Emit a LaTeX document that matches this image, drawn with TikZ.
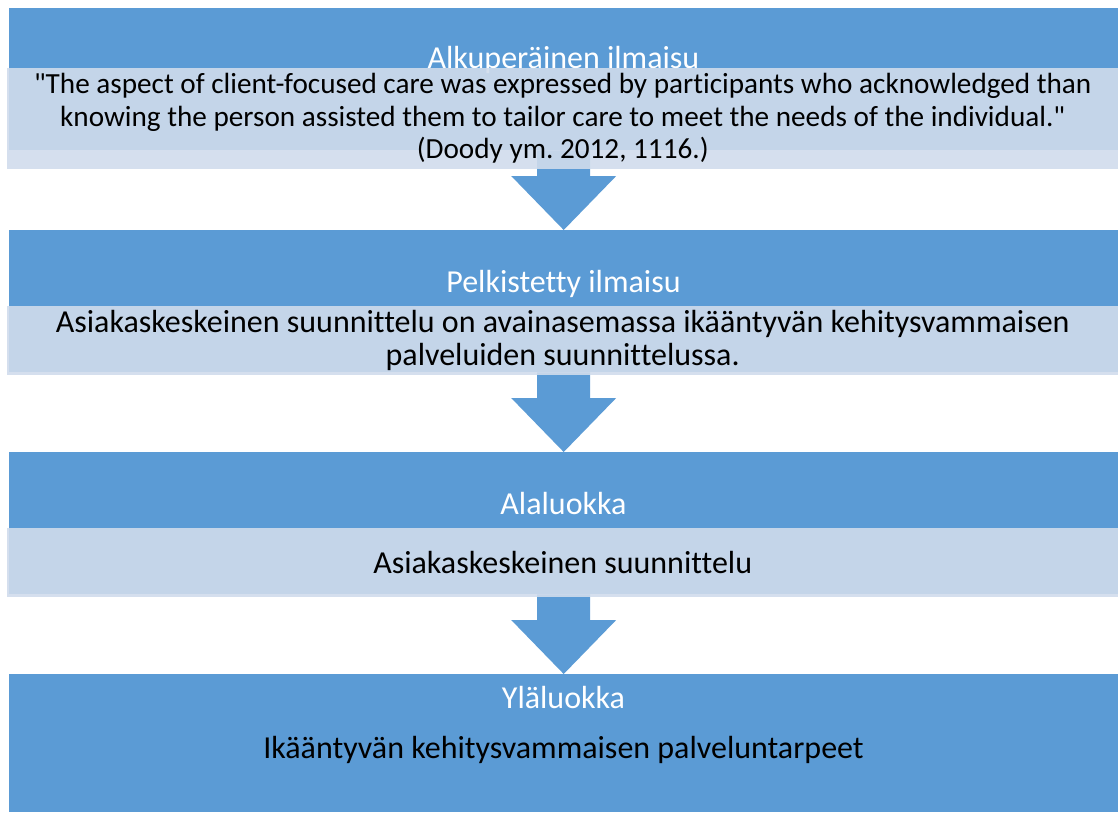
\documentclass[tikz,border=0pt]{standalone}
\usepackage{fontspec}
\setmainfont[Ligatures={NoCommon}]{Carlito}
\usepackage{tikz}
\usetikzlibrary{positioning, calc}
\definecolor{hdrblue}{RGB}{91,155,213}
\definecolor{boxblue}{RGB}{208,220,236}
\tikzstyle{header} = [rectangle,fill=hdrblue,inner sep=0pt,anchor=north west,minimum width=1109pt]
\tikzstyle{content} = [rectangle,fill=boxblue,fill opacity=0.9,text opacity=1,inner sep=0pt,anchor=north west,minimum width=1111pt,align=center,font=\fontsize{32}{33}\selectfont]
\tikzstyle{title} = [text=white,inner sep=0pt,anchor=base,font=\fontsize{32}{33}\selectfont]
\tikzstyle{plain} = [inner sep=0pt,anchor=base,font=\fontsize{32}{33}\selectfont]
\newcommand{\flowarrow}[2]{%
  \fill[hdrblue] ($(#1)+(-26.5,0)$) -- ($(#1)+(26.5,0)$) -- ($(#2)+(26.5,-54)$)
    -- ($(#2)+(52.5,-54)$) -- (#2) -- ($(#2)+(-52.5,-54)$) -- ($(#2)+(-26.5,-54)$) -- cycle;}

\begin{document}
\frenchspacing
\begin{tikzpicture}[x=1pt,y=-1pt]
	\useasboundingbox (0,0) rectangle (1118,812);

	  \node[header, minimum height=142pt] (hdr1) at (9,8) {};
	  \node[header, minimum height=142pt] (hdr2) at (9,230) {};
	  \node[header, minimum height=142pt] (hdr3) at (9,452) {};
	  \node[header, minimum height=138pt] (hdr4) at (9,674) {};

	  \node[title] (ttl1) at (563.5,68) {Alkuperäinen ilmaisu};
	  \node[title] (ttl2) at (563.5,292) {Pelkistetty ilmaisu};
	  \node[title] (ttl3) at (563.5,514) {Alaluokka};
	  \node[title] (ttl4) at (563.5,708) {Yläluokka};

	% now link the nodes

	\flowarrow{hdr1.south}{hdr2.north}
	\flowarrow{hdr2.south}{hdr3.north}
	\flowarrow{hdr3.south}{hdr4.north}

	  \node[content, minimum height=101pt, font=\fontsize{29.2}{32.5}\selectfont] (cnt1) at (7,68) {
	  	\textquotedbl The aspect of client-focused care was expressed by participants who acknowledged than\\
	  	knowing the person assisted them to tailor care to meet the needs of the individual.\textquotedbl\\
	  	(Doody ym. 2012, 1116.)
	  };
	  \node[content, minimum height=69pt] (cnt2) at (7,306) {
	  	Asiakaskeskeinen suunnittelu on avainasemassa ikääntyvän kehitysvammaisen\\
	  	palveluiden suunnittelussa.
	  };
	  \node[content, minimum height=69pt] (cnt3) at (7,528) {Asiakaskeskeinen suunnittelu};

	  \node[plain] (txt4) at (563.5,758) {Ikääntyvän kehitysvammaisen palveluntarpeet};

  \end{tikzpicture}
\end{document}
